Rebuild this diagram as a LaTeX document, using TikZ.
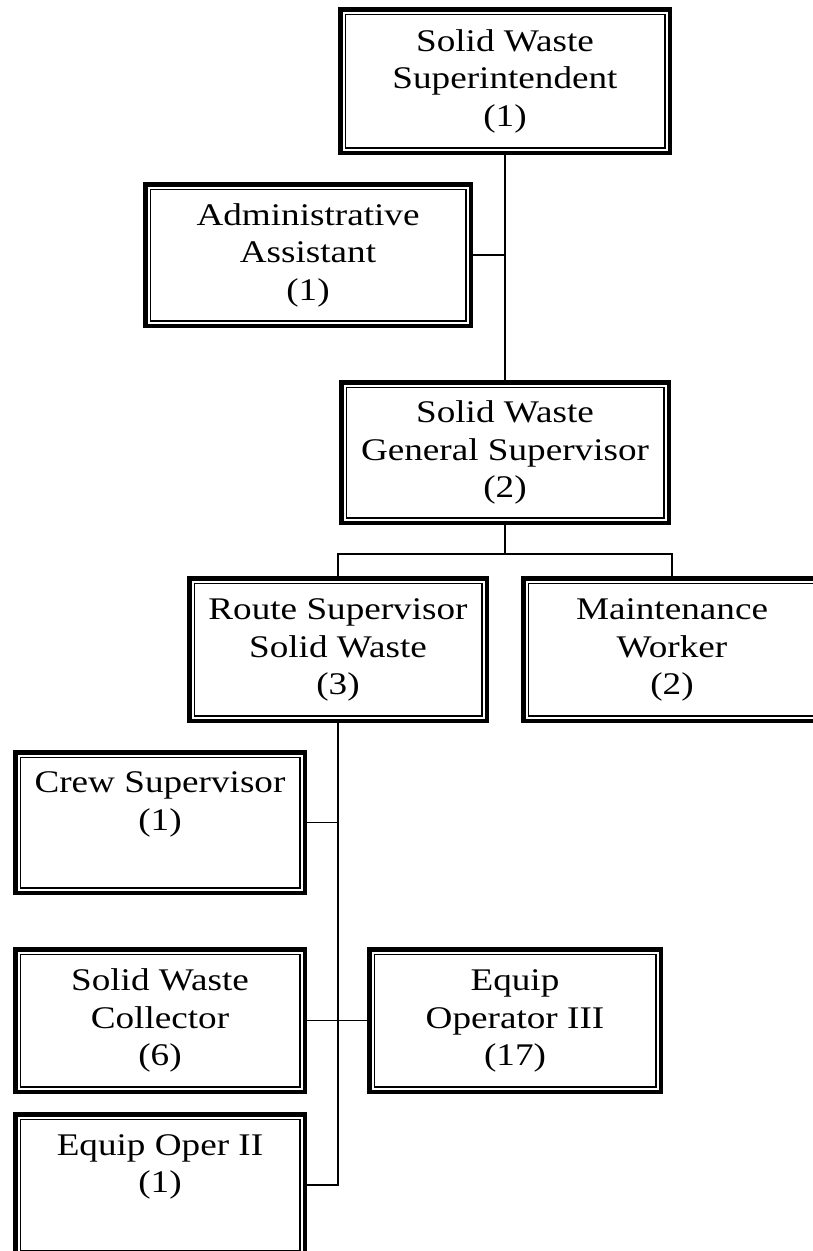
\documentclass[tikz,border=0pt]{standalone}
\usepackage{fontspec}
\newfontfamily\boxfont[FakeStretch=1.18]{Liberation Serif}
\begin{document}
\begin{tikzpicture}[x=1pt,y=-1pt,
  orgbox/.style={draw=black, line width=4.5pt, fill=white, inner sep=0pt,
    align=center, font=\boxfont\fontsize{31.5}{37.5}\selectfont},
  trunk/.style={draw=black, line width=2.6pt},
  branch/.style={draw=black, line width=1.4pt},
  innerline/.style={draw=black, line width=1.6pt}]
\useasboundingbox (0,0) rectangle (813,1251);
\begin{scope}
\clip (0,0) rectangle (813,1251);

% position boxes
\node[orgbox, minimum width=329.5pt, minimum height=143.5pt] (sup) at (505,81)
  {\strut Solid Waste\\Superintendent\\(1)\strut};
\node[orgbox, minimum width=325.5pt, minimum height=141.5pt] (admin) at (308,255)
  {\strut Administrative\\Assistant\\(1)\strut};
\node[orgbox, minimum width=327.5pt, minimum height=140.5pt] (gensup) at (505,452.5)
  {\strut Solid Waste\\General Supervisor\\(2)\strut};
\node[orgbox, minimum width=297.5pt, minimum height=142.5pt] (route) at (338,649.5)
  {\strut Route Supervisor\\Solid Waste\\(3)\strut};
\node[orgbox, minimum width=297.5pt, minimum height=142.5pt] (maint) at (672,649.5)
  {\strut Maintenance\\Worker\\(2)\strut};
\node[orgbox, minimum width=289.5pt, minimum height=140.5pt] (crew) at (160,822.5)
  {\strut Crew Supervisor\\(1)\\\strut};
\node[orgbox, minimum width=289.5pt, minimum height=142.5pt] (coll) at (160,1020.5)
  {\strut Solid Waste\\Collector\\(6)\strut};
\node[orgbox, minimum width=291.5pt, minimum height=142.5pt] (eqthree) at (515,1020.5)
  {\strut Equip\\Operator III\\(17)\strut};
\node[orgbox, minimum width=289.5pt, minimum height=141.5pt] (eqtwo) at (160,1185)
  {\strut Equip Oper II\\(1)\\\strut};

% thin inner rule of each double frame
\foreach \n in {sup,admin,gensup,route,maint,crew,coll,eqthree,eqtwo}
  \draw[innerline] ([xshift=7.3pt,yshift=-7.3pt]\n.north west)
    rectangle ([xshift=-7.3pt,yshift=7.3pt]\n.south east);

% reporting lines
\draw[trunk] (sup.south) -- (sup.south |- admin.east);
\draw[branch] (sup.south |- admin.east) -- (gensup.north);
\draw[branch] (admin.east) -- (admin.east -| sup.south);
\draw[branch] (gensup.south) -- ++(0,29) coordinate (split);
\draw[branch] (split) -| (route.north);
\draw[branch] (split) -| (maint.north);
\draw[trunk] (route.south) |- (eqtwo.east);
\draw[branch] (crew.east) -- (crew.east -| route.south);
\draw[branch] (coll.east) -- (eqthree.west);
\end{scope}
\end{tikzpicture}
\end{document}
